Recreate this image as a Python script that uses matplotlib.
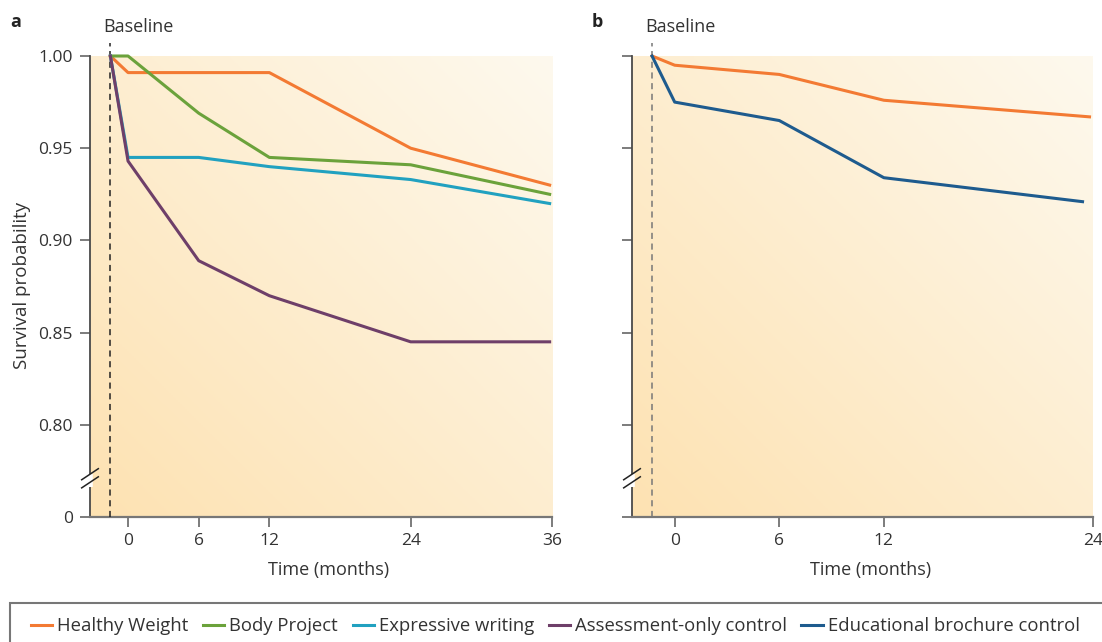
import numpy as np
import matplotlib
matplotlib.use("Agg")
import matplotlib.pyplot as plt
import matplotlib.transforms as mtransforms
from matplotlib.colors import LinearSegmentedColormap
from matplotlib.patches import Rectangle

plt.rcParams['font.family'] = ['Open Sans', 'DejaVu Sans']

# panel a: months and survival probability
months_a = [-1.5, 0, 6, 12, 24, 35.8]
healthy_a = [1.000, 0.991, 0.991, 0.991, 0.950, 0.930]
body_a = [1.000, 1.000, 0.969, 0.945, 0.941, 0.925]
expressive_a = [1.000, 0.945, 0.945, 0.940, 0.933, 0.920]
assess_a = [1.000, 0.943, 0.889, 0.870, 0.845, 0.845]

# panel b
months_b_hw = [-1.3, 0, 6, 12, 23.8]
healthy_b = [1.000, 0.995, 0.990, 0.976, 0.967]
months_b_ed = [-1.3, 0, 6, 12, 23.4]
brochure_b = [1.000, 0.975, 0.965, 0.934, 0.921]

yticks = [0.75, 0.80, 0.85, 0.90, 0.95, 1.00]
ytick_labels = ['0', '0.80', '0.85', '0.90', '0.95', '1.00']

C_HW = '#F37A33'
C_BP = '#6BA23B'
C_EW = '#21A1C0'
C_AO = '#6E3F69'
C_ED = '#1E5B8E'

bg_cmap = LinearSegmentedColormap.from_list('bg', ['#FDE2B2', '#FEF9EE'])
W, H = 1102, 642


def px_x(x):
    return x / W


def px_y(y):
    return 1 - y / H


def style_axes(fig, ax, xlim, xticks, labels_on, dash_color, base_x):
    yy, xx = np.mgrid[0:1:200j, 0:1:200j]
    grad = (xx + yy) / 2
    ax.imshow(grad, extent=[0, 1, 0, 1], transform=ax.transAxes, origin='lower',
              cmap=bg_cmap, aspect='auto', zorder=0)
    ax.set_xlim(*xlim)
    ax.set_ylim(0.75, 1.0)
    for s in ['top', 'right']:
        ax.spines[s].set_visible(False)
    ax.spines['left'].set_color('#4a4a4a')
    ax.spines['bottom'].set_color('#777777')
    ax.spines['left'].set_linewidth(1.3)
    ax.spines['bottom'].set_linewidth(1.6)
    ax.set_xticks(xticks)
    ax.set_xticklabels([str(t) for t in xticks])
    ax.set_yticks(yticks)
    if labels_on:
        ax.set_yticklabels(ytick_labels)
    else:
        ax.set_yticklabels([])
    ax.tick_params(axis='both', length=7.5, width=1.2, color='#666666',
                   labelcolor='#333333', labelsize=12.5)
    ax.tick_params(axis='y', pad=5)
    ax.tick_params(axis='x', pad=4)
    ax.set_xlabel('Time (months)', fontsize=13, color='#333333')
    ax.xaxis.set_label_coords(0.517, -0.095)
    # baseline dashed line, extending above the axes
    ax.plot([base_x, base_x], [0.75, 1.007], ls=(0, (4, 3)), color=dash_color,
            lw=1.1, clip_on=False, zorder=3)
    tr_text = mtransforms.offset_copy(ax.get_xaxis_transform(), fig=fig,
                                      x=-7, y=0, units='dots')
    ax.text(base_x, 1.063, 'Baseline', ha='left', va='center', fontsize=13,
            color='#333333', transform=tr_text, clip_on=False)
    # axis break marks
    tr = ax.get_yaxis_transform()
    ax.plot([0, 0], [0.7665, 0.7735], color='white', lw=4, transform=tr,
            clip_on=False, zorder=5, solid_capstyle='butt')
    for off in (-0.0022, 0.0022):
        ax.plot([-0.018, 0.018], [0.768 + off, 0.774 + off], color='#222222', lw=1.1,
                transform=tr, clip_on=False, zorder=6)


fig = plt.figure(figsize=(W / 100, H / 100), dpi=100)
ax_a = fig.add_axes([px_x(90), px_y(517), (552 - 90) / W, (517 - 56) / H])
ax_b = fig.add_axes([px_x(632), px_y(517), (1093 - 632) / W, (517 - 56) / H])

style_axes(fig, ax_a, (-3.23, 36), [0, 6, 12, 24, 36], True, '#222222', -1.5)
style_axes(fig, ax_b, (-2.45, 24), [0, 6, 12, 24], False, '#777777', -1.3)

lw = 2.2
ax_a.plot(months_a, healthy_a, color=C_HW, lw=lw, clip_on=False, zorder=4, label='Healthy Weight')
ax_a.plot(months_a, body_a, color=C_BP, lw=lw, clip_on=False, zorder=4, label='Body Project')
ax_a.plot(months_a, expressive_a, color=C_EW, lw=lw, clip_on=False, zorder=4, label='Expressive writing')
ax_a.plot(months_a, assess_a, color=C_AO, lw=lw, clip_on=False, zorder=4, label='Assessment-only control')

ax_b.plot(months_b_hw, healthy_b, color=C_HW, lw=lw, clip_on=False, zorder=4)
ax_b.plot(months_b_ed, brochure_b, color=C_ED, lw=lw, clip_on=False, zorder=4,
          label='Educational brochure control')

fig.text(px_x(22), px_y(285), 'Survival probability', rotation=90, ha='center',
         va='center', fontsize=13.5, color='#333333')
fig.text(px_x(10), px_y(22), 'a', fontsize=13, fontweight='bold', va='center', color='#222222')
fig.text(px_x(592), px_y(22), 'b', fontsize=13, fontweight='bold', va='center', color='#222222')

# legend box runs off the bottom/right edge
fig.patches.append(Rectangle((px_x(10), -0.2), 1.2, 0.2 + px_y(603), transform=fig.transFigure,
                             fill=False, edgecolor='#777777', lw=1.5, clip_on=False))
handles = [h for h in ax_a.get_lines() if not h.get_label().startswith('_')]
handles += [h for h in ax_b.get_lines() if not h.get_label().startswith('_')]
fig.legend(handles=handles, labels=[h.get_label() for h in handles], ncol=5,
           loc='center left', bbox_to_anchor=(px_x(31), px_y(626)), frameon=False,
           fontsize=13.3, handlelength=1.15, handletextpad=0.28, columnspacing=0.78,
           labelcolor='#333333', borderaxespad=0, borderpad=0)

fig.savefig('out.png', dpi=100)
